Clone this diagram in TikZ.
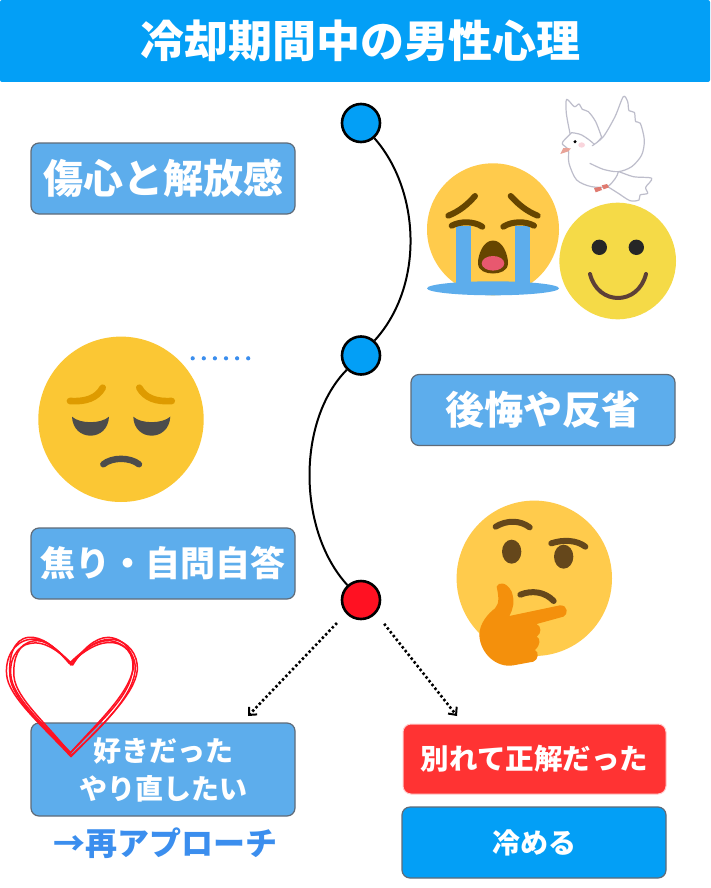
\documentclass[tikz,border=0pt]{standalone}
\usepackage{fontspec}
\usetikzlibrary{arrows.meta}
\newfontfamily\cjk{Noto Sans CJK JP}
\definecolor{titleblue}{HTML}{039FF6}
\definecolor{boxblue}{HTML}{5DADEC}
\definecolor{edgegrey}{HTML}{5F6B78}
\definecolor{redbox}{HTML}{FF3333}
\definecolor{redmark}{HTML}{FF1122}
\definecolor{txtblue}{HTML}{3B8EEE}
\definecolor{faceA}{HTML}{FFCB4C}
\definecolor{faceB}{HTML}{F5DA47}
\definecolor{faceC}{HTML}{FBC734}
\definecolor{browndark}{HTML}{664500}
\definecolor{thinkbrown}{HTML}{65471B}
\definecolor{handorange}{HTML}{F4900C}
\definecolor{doveline}{HTML}{BDBDCB}
\definecolor{mouthpink}{HTML}{E8586F}
\definecolor{smilebrown}{HTML}{5D4037}
\definecolor{beakpink}{HTML}{E8A398}
\definecolor{cheekpink}{HTML}{F9D5DC}
\definecolor{footred}{HTML}{E07A70}
\definecolor{browgold}{HTML}{DE9B00}
\tikzset{
  x=1pt,y=-1pt,
  lab/.style={text=white,font=\cjk\bfseries\fontsize{#1}{#1}\selectfont,align=center,inner sep=0pt},
  box/.style={draw=edgegrey,line width=1.2pt,fill=boxblue,rounded corners=8pt,minimum width=264pt,minimum height=71pt,lab=#1},
  dot/.style={circle,draw=black,line width=2.6pt,minimum size=38pt,inner sep=0pt},
  stroke/.style={line cap=round,line join=round},
  tl/.style={draw=black,line width=2pt},
  dots/.style={draw=black,line width=2.6pt,dash pattern=on 2.4pt off 2.4pt,-{Straight Barb[length=6pt,width=11pt,line width=2pt]},shorten <=13pt},
  dove/.style={draw=doveline,line width=1.2pt,stroke,fill=white},
  hrt/.style={draw=redmark,line width=1.5pt,stroke}
}
\begin{document}
\begin{tikzpicture}
\useasboundingbox (0,0) rectangle (710,888);
\fill[white] (0,0) rectangle (710,888);
% title
\node[fill=titleblue,rounded corners=2pt,minimum width=710pt,minimum height=82pt,lab=44,anchor=center] (title) at (355,41) {\hspace*{10pt}冷却期間中の男性心理};
% timeline nodes
\node[dot,fill=titleblue] (c1) at (361,123) {};
\node[dot,fill=titleblue] (c2) at (361,355.5) {};
\node[dot,fill=redmark] (c3) at (361,600) {};
\draw[tl] (c1) .. controls (420,190) and (425,285) .. (c2);
\draw[tl] (c2) .. controls (297,420) and (297,530) .. (c3);
% boxes
\node[box=40] (b1) at (163,178.5) {傷心と解放感};
\node[box=39] (b2) at (543,410) {後悔や反省};
\node[box=35] (b3) at (163,563.5) {焦り・自問自答};
\node[box=28,minimum height=93pt,font=\cjk\bfseries\fontsize{28}{38}\selectfont] (b4) at (163,769.5) {好きだった\\やり直したい};
\node[draw=red!20,line width=1pt,fill=redbox,rounded corners=8pt,minimum width=263pt,minimum height=70pt,lab=28.5] (b5) at (534.5,759) {別れて正解だった};
\node[draw=edgegrey,line width=1.2pt,fill=titleblue,rounded corners=8pt,minimum width=264pt,minimum height=71pt,lab=28] (b6) at (534,842.5) {冷める};
\node[lab=32,text=txtblue] (again) at (165,843) {→再アプローチ};
% dotted arrows
\coordinate (t1) at (248,716);
\coordinate (t2) at (457,716);
\draw[dots] (c3.222) -- (t1);
\draw[dots] (c3.-42) -- (t2);
% crying face
\fill[faceA] (493,229.3) circle[radius=66];
\fill[boxblue] (493,288.3) ellipse[x radius=66,y radius=7];
\fill[boxblue] (456,226) rectangle (471,288);
\fill[boxblue] (515,226) rectangle (530,288);
\draw[browndark,line width=6pt,stroke] (448.3,215.7) .. controls (460,211) and (468,204) .. (475,196);
\draw[browndark,line width=6pt,stroke] (510.7,196) .. controls (518,204) and (526,211) .. (537.7,215.7);
\draw[browndark,line width=6pt,stroke] (451.7,225.7) .. controls (460,221) and (474,221) .. (482.3,226.7);
\draw[browndark,line width=6pt,stroke] (503.3,226.7) .. controls (512,221) and (526,221) .. (534,225.7);
\fill[browndark] (493,240.5) .. controls (503,240.5) and (508,255) .. (508,263) .. controls (508,271) and (500,273.5) .. (493,273.5) .. controls (486,273.5) and (478,271) .. (478,263) .. controls (478,255) and (483,240.5) .. (493,240.5) -- cycle;
\fill[mouthpink] (493,263.3) ellipse[x radius=11.3,y radius=7.3];
% smile
\fill[faceB] (617.7,261) circle[radius=58.3];
\fill[black!85] (599.3,247.3) circle[radius=7.7];
\fill[black!85] (636.3,247.3) circle[radius=7.7];
\draw[smilebrown,line width=4pt,stroke] (590,274) .. controls (598,306) and (638,306) .. (646,274);
% dove
\begin{scope}[shift={(355,80)},scale=1/3]
\draw[dove] plot[smooth] coordinates {(740,172) (722,125) (700,95) (682,88) (672,72) (658,80) (635,58) (634,100) (645,160)} -- (720,195) -- cycle;
\draw[dove] plot[smooth] coordinates {(785,272) (835,290) (890,295) (872,322) (878,340) (855,345) (852,360) (825,362) (790,340) (755,318)} -- cycle;
\draw[dove] plot[smooth] coordinates {(650,158) (628,180) (622,192) (640,210) (642,250) (665,300) (710,320) (760,318) (790,275) (760,250) (720,195) (680,165) (650,158)};
\draw[dove] plot[smooth] coordinates {(712,197) (745,170) (780,110) (805,50) (818,65) (822,92) (838,97) (842,125) (856,130) (868,180) (860,225) (830,260) (790,275) (745,268) (705,250)};
\fill[beakpink] (616,222) -- (625,204) -- (648,205) -- (640,214) -- cycle;
\fill[black] (660,185) circle[radius=5];
\fill[cheekpink] (680,195) ellipse[x radius=10,y radius=8];
\fill[footred] (717,324) -- (737,320) -- (741,330) -- (722,337) -- cycle;
\fill[footred] (740,316) -- (756,312) -- (762,322) -- (746,328) -- cycle;
\end{scope}
% sad face
\fill[faceC] (121,419.3) circle[radius=82.7];
\draw[browgold,line width=6.7pt,stroke] (70,401) .. controls (86,402) and (97,398) .. (102.7,387.7);
\draw[browgold,line width=6.7pt,stroke] (139.3,387.7) .. controls (145,398) and (156,402) .. (171.7,401);
\fill[black!70] (72,416.7) .. controls (80,424) and (101,424) .. (109,416.7) .. controls (108,442) and (73,442) .. (72,416.7) -- cycle;
\fill[black!70] (133.3,416.7) .. controls (141,424) and (162,424) .. (170.3,416.7) .. controls (169,442) and (134,442) .. (133.3,416.7) -- cycle;
\draw[black!70,line width=6.4pt,stroke] (103.3,464.3) .. controls (112,457) and (130,457) .. (139,464.3);
\foreach \px in {192.7,203.8,214.9,226,237.1,248.2}
  \fill[txtblue] (\px,358.3) circle[radius=2.1];
% thinking face
\fill[faceA] (534.3,578.3) circle[radius=77.7];
\begin{scope}[shift={(400,480)},scale=1/3]
\draw[thinkbrown,line width=6pt,stroke] (287,140) .. controls (320,120) and (360,120) .. (389,142);
\draw[thinkbrown,line width=6pt,stroke] (454,190) .. controls (490,178) and (530,180) .. (556,200);
\fill[thinkbrown] (335,215) ellipse[x radius=29,y radius=36];
\fill[thinkbrown] (491,230) ellipse[x radius=29,y radius=36];
\draw[thinkbrown,line width=6pt,stroke] (361,344) .. controls (395,330) and (435,335) .. (461,363);
\fill[handorange] (290,320) .. controls (295,305) and (320,305) .. (335,335) .. controls (345,365) and (340,385) .. (328,408) -- (480,376) .. controls (505,375) and (505,405) .. (490,410) -- (410,432) .. controls (425,440) and (425,460) .. (410,470) .. controls (422,475) and (422,495) .. (405,510) .. controls (418,515) and (415,540) .. (400,545) -- (340,556) .. controls (290,565) and (240,520) .. (238,465) .. controls (238,430) and (265,400) .. (285,385) .. controls (300,370) and (295,345) .. (290,320) -- cycle;
\end{scope}
% heart
\begin{scope}[shift={(0,620)},scale=1/3]
\draw[hrt] (213,135) .. controls (170,85) and (130,50) .. (90,58) .. controls (40,65) and (15,115) .. (20,165) .. controls (25,230) and (130,320) .. (213,410) .. controls (300,320) and (405,225) .. (412,150) .. controls (415,105) and (385,62) .. (335,58) .. controls (290,55) and (250,90) .. (213,135);
\draw[hrt] (208,130) .. controls (165,80) and (125,48) .. (85,52) .. controls (40,58) and (25,110) .. (30,170) .. controls (35,235) and (135,325) .. (215,405) .. controls (295,330) and (395,235) .. (405,155) .. controls (412,110) and (380,70) .. (330,62) .. controls (285,60) and (245,95) .. (208,130);
\draw[hrt] (218,135) .. controls (175,90) and (135,55) .. (100,63) .. controls (55,70) and (38,115) .. (42,170) .. controls (48,235) and (140,310) .. (210,400) .. controls (290,310) and (385,225) .. (400,145) .. controls (405,100) and (375,55) .. (325,52) .. controls (285,52) and (245,90) .. (218,135);
\draw[hrt] (212,128) .. controls (170,88) and (130,62) .. (92,70) .. controls (50,75) and (22,125) .. (35,180) .. controls (50,240) and (130,315) .. (212,398) .. controls (285,320) and (380,240) .. (395,165) .. controls (408,120) and (390,75) .. (340,68) .. controls (295,62) and (250,95) .. (212,128);
\end{scope}
\end{tikzpicture}
\end{document}
